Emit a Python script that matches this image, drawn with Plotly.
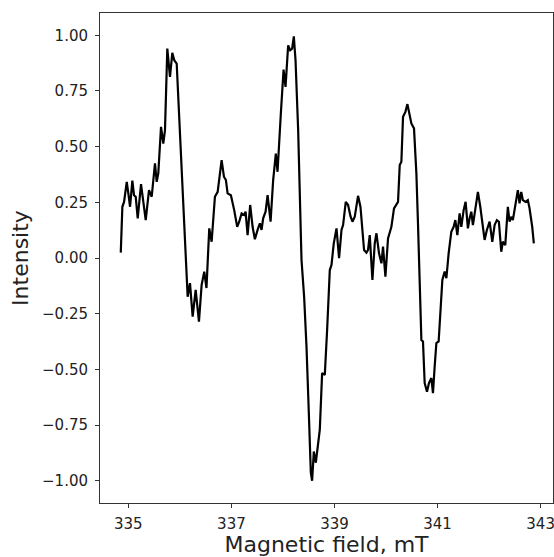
import plotly.graph_objects as go

field_mT = [
    334.853, 334.884, 334.917, 334.969, 335.000, 335.033, 335.078, 335.110, 335.143, 335.182,
    335.246, 335.291, 335.337, 335.401, 335.453, 335.517, 335.550, 335.581, 335.634, 335.678,
    335.711, 335.756, 335.808, 335.853, 335.891, 335.938, 335.969, 336.035, 336.099, 336.151,
    336.196, 336.248, 336.306, 336.370, 336.422, 336.473, 336.516, 336.570, 336.616, 336.680,
    336.733, 336.810, 336.855, 336.893, 336.926, 336.990, 337.054, 337.112, 337.151, 337.198,
    337.248, 337.275, 337.314, 337.364, 337.411, 337.455, 337.508, 337.552, 337.585, 337.616,
    337.663, 337.702, 337.760, 337.810, 337.862, 337.895, 337.959, 338.012, 338.050, 338.101,
    338.140, 338.178, 338.211, 338.244, 338.295, 338.360, 338.411, 338.457, 338.502, 338.541,
    338.566, 338.599, 338.638, 338.682, 338.715, 338.760, 338.812, 338.857, 338.909, 338.942,
    338.986, 339.039, 339.089, 339.136, 339.167, 339.219, 339.264, 339.310, 339.349, 339.393,
    339.457, 339.504, 339.543, 339.574, 339.620, 339.651, 339.684, 339.736, 339.781, 339.814,
    339.864, 339.911, 339.942, 339.988, 340.039, 340.104, 340.155, 340.202, 340.233, 340.266,
    340.298, 340.330, 340.376, 340.415, 340.459, 340.492, 340.543, 340.589, 340.620, 340.653,
    340.686, 340.717, 340.750, 340.795, 340.833, 340.880, 340.911, 340.944, 340.977, 341.021,
    341.060, 341.093, 341.138, 341.171, 341.215, 341.267, 341.312, 341.345, 341.384, 341.428,
    341.461, 341.506, 341.544, 341.589, 341.622, 341.655, 341.686, 341.732, 341.783, 341.829,
    341.880, 341.913, 341.957, 342.010, 342.062, 342.107, 342.151, 342.190, 342.236, 342.267,
    342.314, 342.364, 342.397, 342.430, 342.461, 342.513, 342.558, 342.591, 342.624, 342.655,
    342.707, 342.752, 342.785, 342.837, 342.868,
]

intensity = [
    0.024, 0.230, 0.252, 0.342, 0.290, 0.230, 0.347, 0.282, 0.275, 0.178,
    0.332, 0.260, 0.170, 0.305, 0.275, 0.425, 0.342, 0.380, 0.589, 0.514,
    0.574, 0.940, 0.813, 0.921, 0.888, 0.873, 0.723, 0.425, 0.126, -0.174,
    -0.113, -0.263, -0.143, -0.286, -0.121, -0.061, -0.135, 0.133, 0.073, 0.275,
    0.297, 0.439, 0.365, 0.350, 0.290, 0.282, 0.215, 0.140, 0.163, 0.200,
    0.193, 0.208, 0.103, 0.238, 0.140, 0.084, 0.126, 0.156, 0.126, 0.178,
    0.208, 0.282, 0.163, 0.350, 0.469, 0.387, 0.649, 0.846, 0.768, 0.955,
    0.933, 0.940, 0.995, 0.888, 0.574, -0.009, -0.174, -0.398, -0.695, -0.964,
    -1.000, -0.869, -0.919, -0.831, -0.771, -0.517, -0.525, -0.323, -0.054, -0.031,
    0.066, 0.133, -0.001, 0.126, 0.148, 0.252, 0.238, 0.188, 0.163, 0.185,
    0.279, 0.230, 0.126, 0.036, 0.024, 0.036, 0.103, -0.099, 0.066, 0.111,
    0.021, -0.024, 0.051, -0.084, 0.088, 0.140, 0.223, 0.238, 0.252, 0.417,
    0.432, 0.634, 0.656, 0.691, 0.649, 0.604, 0.582, 0.380, 0.156, -0.143,
    -0.368, -0.375, -0.562, -0.600, -0.562, -0.539, -0.607, -0.487, -0.382, -0.375,
    -0.203, -0.099, -0.061, -0.091, 0.021, 0.118, 0.140, 0.170, 0.103, 0.200,
    0.140, 0.215, 0.252, 0.133, 0.178, 0.208, 0.148, 0.223, 0.297, 0.230,
    0.126, 0.081, 0.126, 0.163, 0.073, 0.148, 0.170, 0.163, 0.028, 0.073,
    0.058, 0.230, 0.163, 0.185, 0.170, 0.245, 0.305, 0.245, 0.297, 0.260,
    0.252, 0.260, 0.223, 0.140, 0.066,
]

x_ticks = [335, 337, 339, 341, 343]
y_ticks = [-1.0, -0.75, -0.5, -0.25, 0.0, 0.25, 0.5, 0.75, 1.0]

FONT = "DejaVu Sans"

fig = go.Figure(
    go.Scatter(
        x=field_mT,
        y=intensity,
        mode="lines",
        line=dict(color="black", width=2.2),
        showlegend=False,
    )
)

axis_common = dict(
    showgrid=False,
    zeroline=False,
    showline=True,
    linecolor="#333333",
    linewidth=1,
    mirror=True,
    ticks="outside",
    ticklen=4,
    tickwidth=1,
    tickcolor="#333333",
    tickfont=dict(family=FONT, size=15, color="#222222"),
    automargin=False,
    ticklabeloverflow="allow",
)

fig.update_xaxes(
    **axis_common,
    range=[334.45, 343.24],
    tickmode="array",
    tickvals=x_ticks,
    ticktext=[str(v) for v in x_ticks],
    title=dict(text="Magnetic field, mT", font=dict(family=FONT, size=22, color="#222222"), standoff=10),
    ticklabelstandoff=3,
)
fig.update_yaxes(
    **axis_common,
    range=[-1.1, 1.1],
    tickmode="array",
    tickvals=y_ticks,
    tickformat=".2f",
    title=dict(text="Intensity", font=dict(family=FONT, size=22, color="#222222"), standoff=7),
    ticklabelstandoff=4,
)

fig.update_layout(
    width=554,
    height=557,
    margin=dict(l=100, r=1, t=13, b=54),
    paper_bgcolor="white",
    plot_bgcolor="white",
    font=dict(family=FONT),
)

fig.write_html("out.html")
